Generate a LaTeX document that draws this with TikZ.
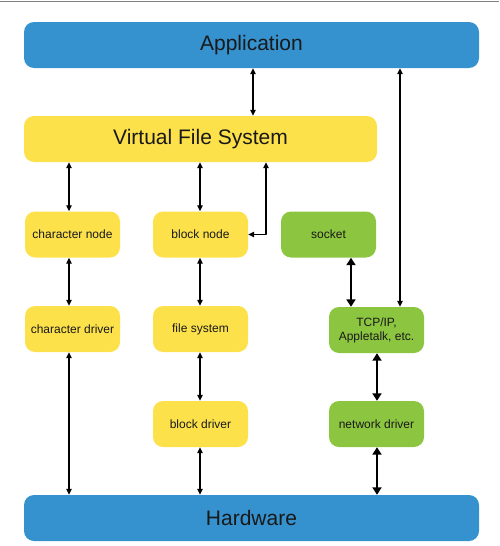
\documentclass[tikz,border=0pt]{standalone}
\usepackage{fontspec}
\setmainfont{Liberation Sans}
\usetikzlibrary{arrows.meta}
\definecolor{appblue}{HTML}{3592CF}
\definecolor{fsyellow}{HTML}{FCE14B}
\definecolor{netgreen}{HTML}{8CC540}
\tikzset{
  box/.style={rounded corners=10pt, inner sep=0pt, align=center, text=black!90},
  wide/.style={box, minimum width=455pt, minimum height=46pt, font=\fontsize{21}{24}\selectfont},
  small/.style={box, minimum width=95pt, minimum height=46pt, font=\fontsize{12}{14}\selectfont},
  link/.style={<->, line width=1.3pt, >={Triangle[length=6pt,width=5.5pt]}},
  thick link/.style={<->, line width=2pt, >={Triangle[length=7.5pt,width=9pt]}}
}
\begin{document}
\begin{tikzpicture}[x=1pt, y=-1pt, line join=round]
  \useasboundingbox (0,0) rectangle (499,546);
  \draw[gray, line width=1pt] (0,1.5) -- (499,1.5);
  \path
  (69,0) coordinate (c1)
  (200,0) coordinate (c2)
  (266,0) coordinate (c3)
  (253,0) coordinate (c4)
  (351,0) coordinate (c5)
  (377,0) coordinate (c6)
  (400,0) coordinate (c7)
  ;
  \node[wide, fill=appblue] (app) at (251.5,45) {Application};
  \node[box, fill=fsyellow, minimum width=353pt, minimum height=46pt, font=\fontsize{21}{24}\selectfont] (vfs) at (200.5,139) {Virtual File System};
  \node[small, fill=fsyellow] (charnode) at (72.5,234.5) {character node};
  \node[small, fill=fsyellow] (blocknode) at (200.5,234.5) {block node};
  \node[small, fill=netgreen] (socket) at (328.5,234.5) {socket};
  \node[small, fill=fsyellow] (chardrv) at (72.5,329) {character driver};
  \node[small, fill=fsyellow] (filesys) at (200.5,329) {file system};
  \node[small, fill=netgreen] (tcp) at (376.5,330) {TCP/IP,\\Appletalk, etc.};
  \node[small, fill=fsyellow] (blkdrv) at (200.5,424) {block driver};
  \node[small, fill=netgreen] (netdrv) at (376.5,424) {network driver};
  \node[wide, fill=appblue] (hw) at (251.5,518) {Hardware};
  % file side
  \draw[link] (app.south -| c4) -- (vfs.north -| c4);
  \draw[link] (vfs.south -| c1) -- (charnode.north -| c1);
  \draw[link] (vfs.south -| c2) -- (blocknode.north -| c2);
  \draw[link] (vfs.south -| c3) |- (blocknode.east);
  \draw[link] (charnode.south -| c1) -- (chardrv.north -| c1);
  \draw[link] (blocknode.south -| c2) -- (filesys.north -| c2);
  \draw[link] (chardrv.south -| c1) -- (hw.north -| c1);
  \draw[link] (filesys.south -| c2) -- (blkdrv.north -| c2);
  \draw[link] (blkdrv.south -| c2) -- (hw.north -| c2);
  % network side
  \draw[link] (app.south -| c7) -- (tcp.north -| c7);
  \draw[thick link] (socket.south -| c5) -- (tcp.north -| c5);
  \draw[thick link] (tcp.south -| c6) -- (netdrv.north -| c6);
  \draw[thick link] (netdrv.south -| c6) -- (hw.north -| c6);
\end{tikzpicture}
\end{document}
